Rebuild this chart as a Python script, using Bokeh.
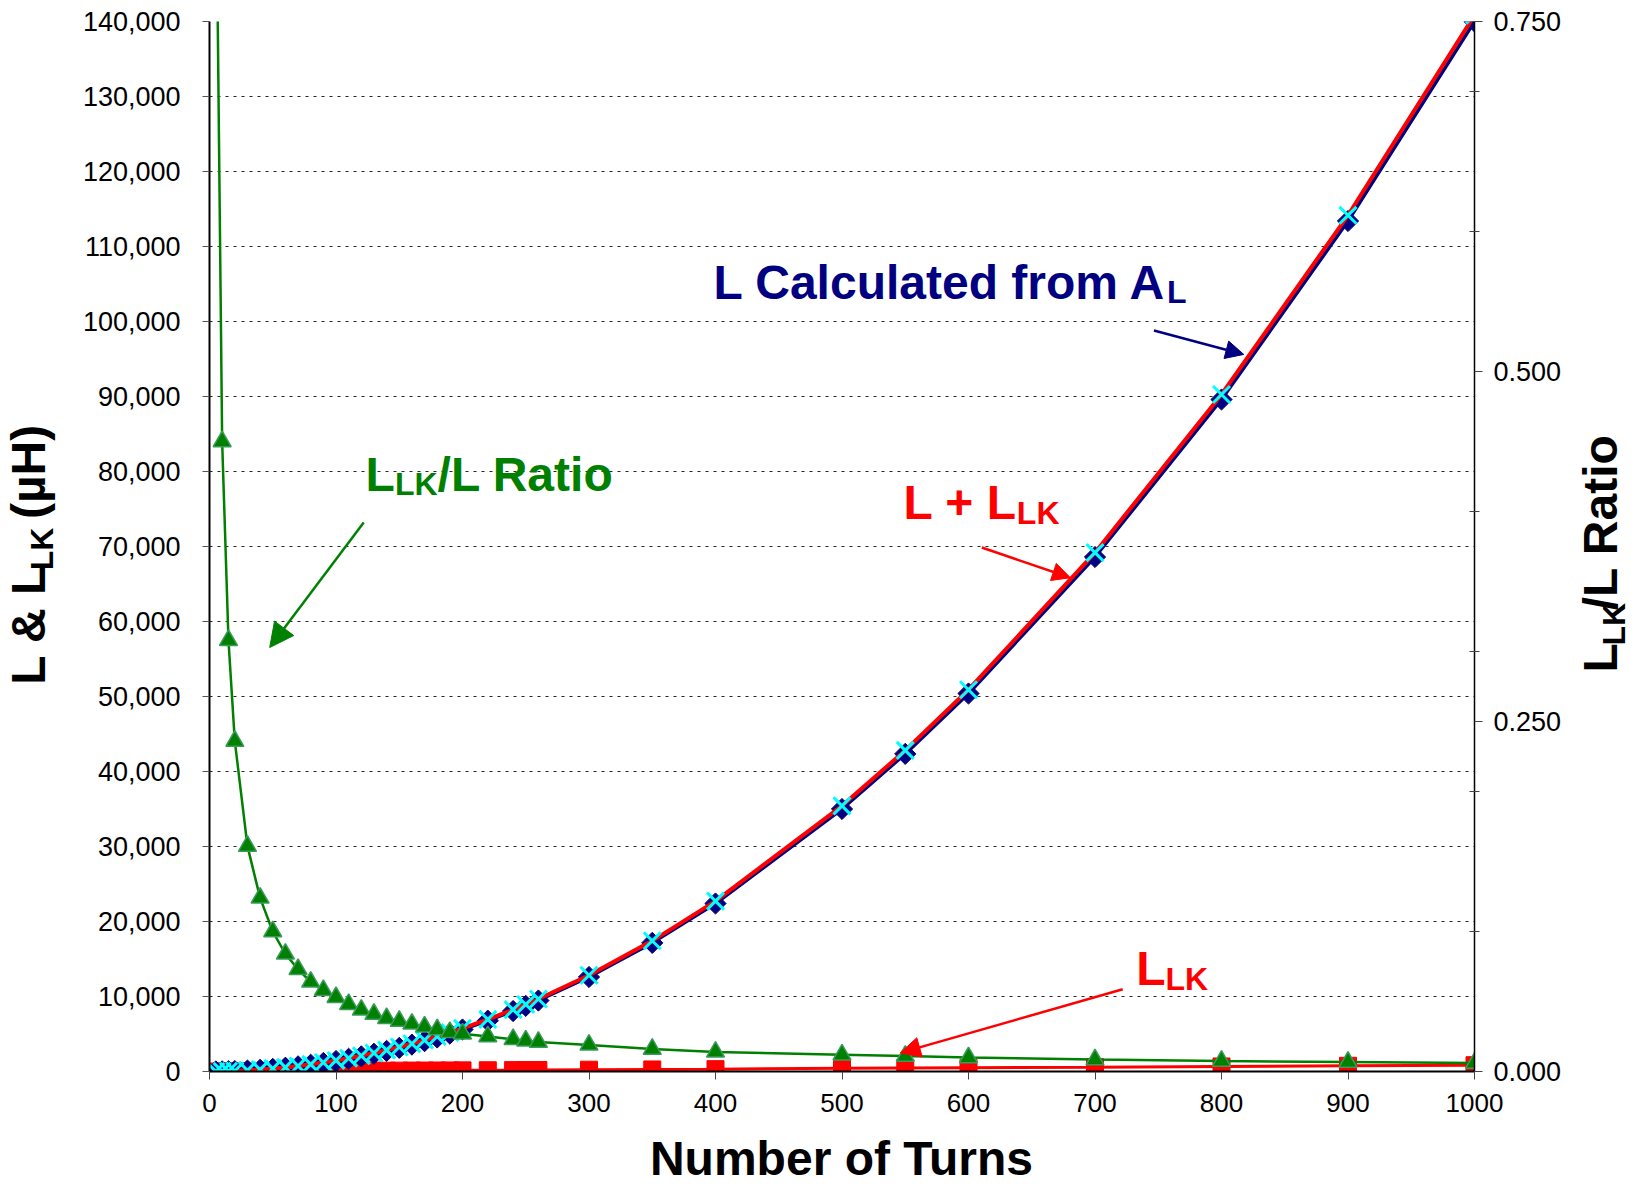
import math
from bokeh.plotting import figure
from bokeh.layouts import row, column
from bokeh.models import (Range1d, LinearAxis, FixedTicker, NumeralTickFormatter,
                          Label, Arrow, NormalHead)
from bokeh.embed import file_html
from bokeh.resources import INLINE

# ---------------- data ----------------
turns = [5, 10, 15, 20, 30, 40, 50, 60, 70, 80, 90, 100, 110, 120, 130, 140, 150,
         160, 170, 180, 190, 200, 220, 240, 250, 260, 300, 350, 400, 500, 550, 600,
         700, 800, 900, 1000]
l_calc = [3.5, 14, 31.5, 56, 126, 224, 350, 504, 686, 896, 1134, 1400, 1694, 2016,
          2366, 2744, 3150, 3584, 4046, 4536, 5054, 5600, 6776, 8064, 8750, 9464,
          12600, 17150, 22400, 35000, 42350, 50400, 68600, 89600, 113400, 140000]
l_leak = [3.1, 6.3, 9.7, 13.2, 20.3, 27.8, 35, 42, 50, 57, 66, 74, 81, 89, 97, 104,
          113, 122, 129, 136, 142, 151, 169, 185, 193, 199, 239, 274, 314, 420, 466,
          504, 583, 672, 760, 840]
l_total = [6.6, 20.3, 41.2, 69.2, 146, 252, 385, 546, 736, 953, 1200, 1474, 1775,
           2105, 2463, 2848, 3263, 3706, 4175, 4672, 5196, 5751, 6945, 8249, 8943,
           9663, 12839, 17424, 22714, 35420, 42816, 50904, 69183, 90272, 114160, 140840]
ratio = [0.88, 0.450, 0.308, 0.236, 0.161, 0.124, 0.100, 0.084, 0.073, 0.064, 0.058,
         0.053, 0.048, 0.044, 0.041, 0.038, 0.036, 0.034, 0.032, 0.030, 0.028, 0.027,
         0.025, 0.023, 0.022, 0.021, 0.019, 0.016, 0.014, 0.012, 0.011, 0.010,
         0.0085, 0.0075, 0.0067, 0.0060]

x_ticks = [0, 100, 200, 300, 400, 500, 600, 700, 800, 900, 1000]
left_ticks = [0, 10000, 20000, 30000, 40000, 50000, 60000, 70000, 80000, 90000,
              100000, 110000, 120000, 130000, 140000]
right_ticks = [0.0, 0.25, 0.5, 0.75]
right_minor = [0.1, 0.2, 0.3, 0.4, 0.6, 0.7]

NAVY = "#000080"
RED = "#FF0000"
GREEN = "#008000"
CYAN = "#00FFFF"

LEFT_W, RIGHT_W, BOTTOM_H = 75, 62, 60
TOTAL_W, TOTAL_H = 1637, 1186
MAIN_W = TOTAL_W - LEFT_W - RIGHT_W
MAIN_H = TOTAL_H - BOTTOM_H

p = figure(width=MAIN_W, height=MAIN_H, output_backend="svg", toolbar_location=None,
           x_range=Range1d(0, 1000), y_range=Range1d(0, 140000))
p.min_border_left = 209 - LEFT_W
p.min_border_right = MAIN_W - (1474 - LEFT_W)
p.min_border_top = 21
p.min_border_bottom = MAIN_H - 1071
p.outline_line_color = None
p.background_fill_color = "white"
p.border_fill_color = "white"
p.extra_y_ranges = {"ratio": Range1d(0, 0.75)}

# axes
xa = p.xaxis[0]
xa.ticker = FixedTicker(ticks=x_ticks)
xa.axis_line_color = "black"
xa.axis_line_width = 2
xa.major_tick_out = 8
xa.major_tick_in = 0
xa.minor_tick_line_color = None
xa.major_tick_line_color = "#444444"
xa.major_label_text_font = "Liberation Sans"
xa.major_label_text_font_size = "26px"
xa.major_label_text_color = "black"
xa.major_label_standoff = 14

ya = p.yaxis[0]
ya.ticker = FixedTicker(ticks=left_ticks)
ya.formatter = NumeralTickFormatter(format="0,0")
ya.axis_line_color = "black"
ya.axis_line_width = 2
ya.major_tick_out = 7
ya.major_tick_in = 0
ya.minor_tick_line_color = None
ya.major_tick_line_color = "#555555"
ya.major_label_text_font = "Liberation Sans"
ya.major_label_text_font_size = "27px"
ya.major_label_text_color = "black"
ya.major_label_standoff = 22

ra = LinearAxis(y_range_name="ratio",
                ticker=FixedTicker(ticks=right_ticks, minor_ticks=right_minor),
                formatter=NumeralTickFormatter(format="0.000"))
ra.axis_line_color = "black"
ra.axis_line_width = 1.5
ra.major_tick_out = 8
ra.major_tick_in = 0
ra.minor_tick_in = 5
ra.minor_tick_out = 5
ra.major_tick_line_color = "#444444"
ra.minor_tick_line_color = "#444444"
ra.major_label_text_font = "Liberation Sans"
ra.major_label_text_font_size = "27px"
ra.major_label_text_color = "black"
ra.major_label_standoff = 11
p.add_layout(ra, "right")

p.xgrid.grid_line_color = None
p.ygrid.ticker = FixedTicker(ticks=left_ticks)
p.ygrid.grid_line_color = "black"
p.ygrid.grid_line_width = 1
p.ygrid.grid_line_dash = "3 5"
p.ygrid.grid_line_alpha = 0.85

# series
p.line(turns, l_leak, line_color=RED, line_width=3)
p.scatter(turns, l_leak, marker="square", size=17, fill_color=RED, line_color=RED)

p.line(turns, l_calc, line_color=NAVY, line_width=3.5)
p.scatter(turns, l_calc, marker="square", angle=math.pi / 4, size=15,
          fill_color=NAVY, line_color=NAVY)

p.line(turns, l_total, line_color=RED, line_width=4)
p.scatter(turns, l_total, marker="x", size=24, line_color=CYAN, line_width=3)

p.line(turns, ratio, line_color=GREEN, line_width=2.5, y_range_name="ratio")
p.scatter(turns, ratio, marker="triangle", size=18, fill_color=GREEN,
          line_color="#3a9a5a", line_width=1.5, y_range_name="ratio")

# ---------------- text helpers ----------------
W = {' ': 278, '&': 722, '(': 333, ')': 333, '/': 278, '+': 584, 'L': 611, 'K': 722,
     'H': 722, 'µ': 611, 'R': 722, 'a': 556, 't': 333, 'i': 278, 'o': 611, 'C': 722,
     'c': 556, 'l': 278, 'u': 611, 'e': 556, 'd': 611, 'f': 333, 'r': 389, 'm': 889,
     'A': 722, 'N': 722, 'b': 611, 'n': 611, 's': 556, 'T': 611}

BASE_FIX = 16   # rendered baseline sits this many px lower than requested (48px)
MID = 0.3465    # baseline distance below the text-box middle, in em
ALONG_FIX = 28  # rotated labels render this many px further along the text
PERP_FIX = 7    # and this many px further toward their baseline side


def tw(s, size):
    return sum(W.get(ch, 600) for ch in s) / 1000.0 * size


def rich(fig, x, y, parts, color):
    adv = 0.0
    for text, size, shift in parts:
        if text:
            fig.add_layout(Label(x=x, y=y, text=text, text_font="Liberation Sans",
                                 text_font_style="bold", text_font_size=f"{size}px",
                                 text_color=color, text_align="left",
                                 text_baseline="alphabetic",
                                 x_offset=adv, y_offset=BASE_FIX - shift))
        adv += tw(text if text else " ", size)


def rich_vertical(fig, base_x, start_y, parts, color):
    """Bottom-to-top text; base_x = baseline x, start_y = bottom start (y from top)."""
    adv = 0.0
    for text, size, shift in parts:
        w = tw(text if text else " ", size)
        if text:
            cx = base_x + shift - MID * size - PERP_FIX
            cy = start_y - (adv + w / 2.0) + ALONG_FIX
            fig.add_layout(Label(x=cx, y=cy, text=text, angle=math.pi / 2,
                                 text_font="Liberation Sans", text_font_style="bold",
                                 text_font_size=f"{size}px", text_color=color,
                                 text_align="center", text_baseline="middle"))
        adv += w


MAIN, SUB, DROP = 48, 32, 10

rich(p, 123.4, 77500, [("L", MAIN, 0), ("LK", SUB, DROP), ("/L Ratio", MAIN, 0)], GREEN)
rich(p, 398.4, 103070, [("L Calculated from A", MAIN, 0), ("L", SUB, DROP)], NAVY)
rich(p, 548.6, 73730, [("L + L", MAIN, 0), ("LK", SUB, DROP)], RED)
rich(p, 732.6, 11600, [("L", MAIN, 0), ("LK", SUB, DROP)], RED)


# arrows
def arrow(x0, y0, x1, y1, color, size):
    p.add_layout(Arrow(end=NormalHead(size=size, fill_color=color, line_color=color),
                       x_start=x0, y_start=y0, x_end=x1, y_end=y1,
                       line_color=color, line_width=2.5))


arrow(121.9, 73200, 47.6, 56530, GREEN, 24)
arrow(746.6, 98810, 817.6, 95610, NAVY, 18)
arrow(610.5, 69860, 680.6, 65830, RED, 18)
arrow(721.9, 10970, 546.1, 2480, RED, 20)


# ---------------- title strips (pixel-mapped ranges, y from top) ----------------
def strip(w, h):
    f = figure(width=w, height=h, output_backend="svg", toolbar_location=None,
               x_range=Range1d(0, w), y_range=Range1d(h, 0),
               x_axis_type=None, y_axis_type=None, min_border=0)
    f.min_border_left = f.min_border_right = 0
    f.min_border_top = f.min_border_bottom = 0
    f.outline_line_color = None
    f.background_fill_color = "white"
    f.border_fill_color = "white"
    f.xgrid.visible = False
    f.ygrid.visible = False
    return f


left_strip = strip(LEFT_W, MAIN_H)
right_strip = strip(RIGHT_W, MAIN_H)
bottom_strip = strip(TOTAL_W, BOTTOM_H)

rich_vertical(left_strip, 52, 679,
              [("L & L", 48, 0), ("LK", SUB, 8), ("", 48, 0), ("(µH)", 48, 0)], "black")
rich_vertical(right_strip, 1624 - (TOTAL_W - RIGHT_W), 669,
              [("L", 48, 0), ("LK", SUB, 8), ("/L Ratio", 48, 0)], "black")
bottom_strip.add_layout(Label(x=841, y=1174 - MAIN_H, y_offset=BASE_FIX,
                              text="Number of Turns", text_font="Liberation Sans",
                              text_font_style="bold", text_font_size="48px",
                              text_color="black", text_align="center",
                              text_baseline="alphabetic"))

layout = column(row(left_strip, p, right_strip, spacing=0), bottom_strip, spacing=0)

open("out.html", "w").write(file_html(layout, INLINE))
